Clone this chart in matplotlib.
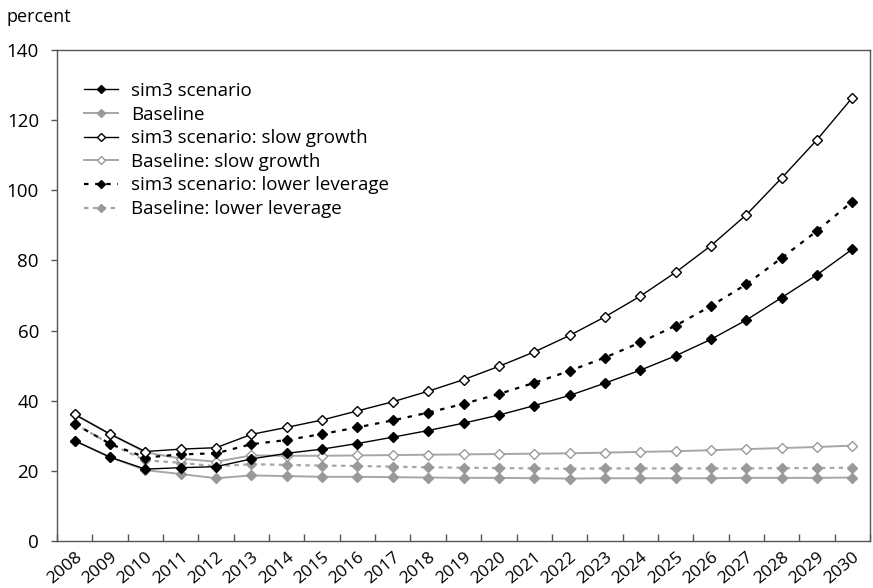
import matplotlib
matplotlib.use('Agg')
import matplotlib.pyplot as plt
import matplotlib.transforms as mtransforms
import numpy as np

years = [str(y) for y in range(2008, 2031)]

sim3 = [28.6, 23.9, 20.5, 20.9, 21.2, 23.4, 25.0, 26.2, 27.8, 29.6, 31.5, 33.6,
        35.9, 38.6, 41.5, 45.0, 48.7, 52.8, 57.5, 63.0, 69.4, 75.9, 83.2]
baseline = [28.6, 23.9, 20.2, 19.1, 17.9, 18.7, 18.5, 18.3, 18.3, 18.2, 18.1, 18.0,
            18.0, 17.9, 17.8, 17.9, 17.9, 17.9, 17.9, 18.0, 18.0, 18.0, 18.1]
sim3_slow = [36.1, 30.5, 25.5, 26.2, 26.6, 30.4, 32.4, 34.5, 37.1, 39.7, 42.7, 46.0,
             49.8, 53.9, 58.6, 63.9, 69.8, 76.6, 84.2, 93.0, 103.5, 114.4, 126.4]
baseline_slow = [36.1, 30.5, 25.3, 23.5, 22.6, 24.4, 24.3, 24.3, 24.4, 24.5, 24.6, 24.7,
                 24.8, 24.9, 25.0, 25.2, 25.4, 25.6, 25.9, 26.2, 26.5, 26.8, 27.2]
sim3_lowlev = [33.4, 27.7, 23.8, 24.7, 25.0, 27.6, 28.8, 30.5, 32.4, 34.4, 36.6, 39.1,
               41.9, 45.1, 48.5, 52.3, 56.6, 61.4, 67.0, 73.2, 80.7, 88.4, 96.8]
baseline_lowlev = [33.4, 27.7, 23.0, 22.3, 21.3, 21.9, 21.7, 21.5, 21.4, 21.2, 21.0, 20.9,
                   20.8, 20.7, 20.6, 20.7, 20.7, 20.7, 20.7, 20.7, 20.8, 20.8, 20.9]

plt.rcParams['font.family'] = ['Open Sans', 'DejaVu Sans']
plt.rcParams['font.size'] = 13.5

fig = plt.figure(figsize=(8.73, 5.88), dpi=100)
ax = fig.add_axes([57 / 873, 47 / 588, 813 / 873, 491 / 588])

x = np.arange(len(years))
gray_line = '#a6a6a6'
gray_mk = '#999999'

ax.plot(x, baseline_lowlev, color=gray_line, lw=1.6, ls=(0, (2, 2)), marker='D', ms=5,
        mfc=gray_mk, mec=gray_mk, label='Baseline: lower leverage', zorder=2)
ax.plot(x, baseline_slow, color=gray_line, lw=1.4, marker='D', ms=5,
        mfc='white', mec=gray_mk, label='Baseline: slow growth', zorder=2)
ax.plot(x, baseline, color=gray_line, lw=1.4, marker='D', ms=5,
        mfc=gray_mk, mec=gray_mk, label='Baseline', zorder=2)
ax.plot(x, sim3_lowlev, color='black', lw=1.6, ls=(0, (2, 3)), marker='D', ms=5.5,
        mfc='black', mec='black', label='sim3 scenario: lower leverage', zorder=3)
ax.plot(x, sim3_slow, color='black', lw=1.0, marker='D', ms=5,
        mfc='white', mec='black', label='sim3 scenario: slow growth', zorder=3)
ax.plot(x, sim3, color='black', lw=1.0, marker='D', ms=5.5,
        mfc='black', mec='black', label='sim3 scenario', zorder=3)

ax.set_xlim(-0.5, len(years) - 0.5)
ax.set_ylim(0, 140)
ax.set_yticks(range(0, 141, 20))
ax.set_xticks(x)
ax.set_xticks(np.arange(len(years) + 1) - 0.5, minor=True)
ax.set_xticklabels(years, rotation=40, ha='right', va='top', rotation_mode='anchor',
                   fontsize=12.5)
offset = mtransforms.ScaledTranslation(6 / 100, 0, fig.dpi_scale_trans)
for lbl in ax.get_xticklabels():
    lbl.set_transform(lbl.get_transform() + offset)

ax.tick_params(axis='x', which='major', length=0, pad=6)
ax.tick_params(axis='x', which='minor', direction='in', length=5, width=1, color='#555555')
ax.tick_params(axis='y', direction='out', length=4, width=1, color='#555555', pad=9)
for s in ax.spines.values():
    s.set_color('#555555')
    s.set_linewidth(1)

handles, labels = ax.get_legend_handles_labels()
order = ['sim3 scenario', 'Baseline', 'sim3 scenario: slow growth',
         'Baseline: slow growth', 'sim3 scenario: lower leverage', 'Baseline: lower leverage']
hmap = dict(zip(labels, handles))
leg = ax.legend([hmap[k] for k in order], order, loc='upper left',
                bbox_to_anchor=(27 / 813, 1 - 32 / 491), frameon=False,
                handlelength=1.8, handletextpad=0.7, labelspacing=0.3,
                borderpad=0, borderaxespad=0, markerscale=0.8)

fig.text(7 / 873, 1 - 22 / 588, 'percent', ha='left', va='baseline', fontsize=13)

fig.savefig('out.png', dpi=100)
